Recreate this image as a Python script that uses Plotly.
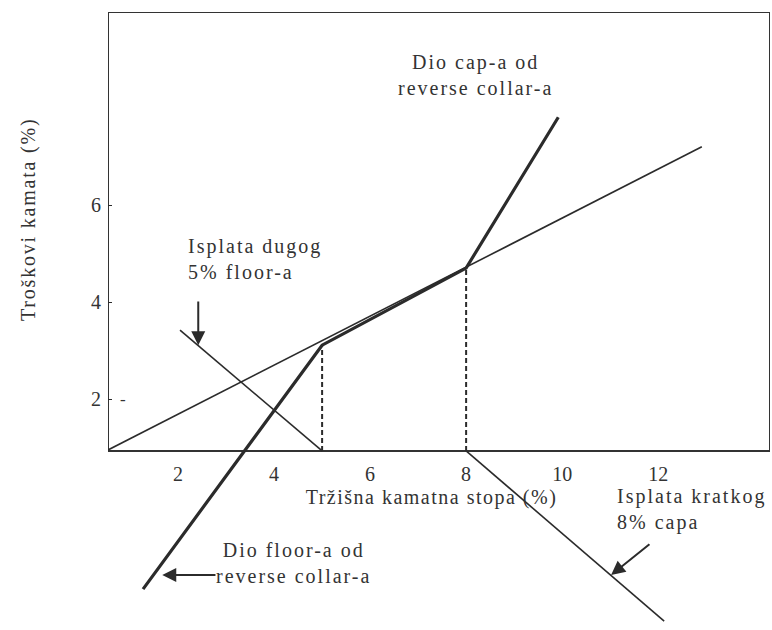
import plotly.graph_objects as go

# ---- data (schematic chart units) ----
unhedged_x = [0.54, 12.91]
unhedged_y = [0.95, 7.20]

hedged_x = [1.27, 5, 8, 9.92]
hedged_y = [-1.92, 3.11, 4.70, 7.81]

floor_x = [2.04, 5]
floor_y = [3.42, 0.93]

cap_x = [8, 12.125]
cap_y = [0.93, -2.58]

strike_floor = 5
strike_cap = 8
axis_level = 0.93

x_ticks = [2, 4, 6, 8, 10, 12]
y_ticks = [2, 4, 6]

x_range = [0.54, 14.33]
y_range = [-2.763, 9.98]

FONT = "Liberation Serif"
INK = "#2b2b2b"
TXT = "#333333"
FS = 20


def sp(s, ls=2):
    return f'<span style="letter-spacing:{ls}px">{s}</span>'


fig = go.Figure()

fig.add_trace(go.Scatter(x=unhedged_x, y=unhedged_y, mode="lines",
                         line=dict(color=INK, width=1.6), hoverinfo="skip"))
fig.add_trace(go.Scatter(x=floor_x, y=floor_y, mode="lines",
                         line=dict(color=INK, width=1.6), hoverinfo="skip"))
fig.add_trace(go.Scatter(x=cap_x, y=cap_y, mode="lines",
                         line=dict(color=INK, width=1.6), hoverinfo="skip"))
fig.add_trace(go.Scatter(x=hedged_x, y=hedged_y, mode="lines",
                         line=dict(color=INK, width=3.2), hoverinfo="skip"))

# dashed verticals at the strikes
fig.add_trace(go.Scatter(x=[strike_floor, strike_floor], y=[axis_level, hedged_y[1]], mode="lines",
                         line=dict(color=INK, width=2, dash="5px,3px"), hoverinfo="skip"))
fig.add_trace(go.Scatter(x=[strike_cap, strike_cap], y=[axis_level, hedged_y[2]], mode="lines",
                         line=dict(color=INK, width=2, dash="5px,3px"), hoverinfo="skip"))

# box around the plot region
fig.add_shape(type="rect", xref="x", yref="y", x0=x_range[0], x1=x_range[1],
              y0=axis_level, y1=y_range[1], line=dict(color="#333333", width=2), layer="below")

ann_font = dict(family=FONT, size=FS, color=TXT)
W, H = 772, 630
L, R, T, B = 108, 2, 12, 0

annotations = [
    dict(x=8.2, y=8.68, xref="x", yref="y", text=sp("Dio cap-a od") + "<br>" + sp("reverse collar-a"),
         showarrow=False, font=ann_font, align="center", xanchor="center"),
    dict(x=2.16, y=4.88, xref="x", yref="y", text=sp("Isplata dugog") + "<br>" + sp("5% floor-a"),
         showarrow=False, font=ann_font, align="left", xanchor="left"),
    dict(x=4.4, y=-1.39, xref="x", yref="y", text=sp("Dio floor-a od") + "<br>" + sp("reverse collar-a"),
         showarrow=False, font=ann_font, align="center"),
    dict(x=11.1, y=-0.28, xref="x", yref="y", text=sp("Isplata kratkog") + "<br>" + sp("8% capa"),
         showarrow=False, font=ann_font, align="left", xanchor="left"),
    # arrows
    dict(x=2.42, y=3.11, ax=2.42, ay=4.04, xref="x", yref="y", axref="x", ayref="y",
         text="", showarrow=True, arrowhead=2, arrowsize=1.4, arrowwidth=2, arrowcolor=INK),
    dict(x=11.02, y=-1.63, ax=11.85, ay=-0.97, xref="x", yref="y", axref="x", ayref="y",
         text="", showarrow=True, arrowhead=2, arrowsize=1.4, arrowwidth=2, arrowcolor=INK),
    dict(x=1.67, y=-1.63, ax=2.81, ay=-1.63, xref="x", yref="y", axref="x", ayref="y",
         text="", showarrow=True, arrowhead=2, arrowsize=1.4, arrowwidth=2, arrowcolor=INK),
    # y axis title
    dict(x=(28 - L) / (W - L - R), y=1 - (220 - T) / (H - T - B), xref="paper", yref="paper",
         text=sp("Troškovi kamata (%)", 1.8), showarrow=False, textangle=-90, font=ann_font,
         xanchor="center", yanchor="middle"),
    dict(x=0.54 + 15 / 48, y=2.0, xref="x", yref="y", text="-", showarrow=False,
         font=dict(family=FONT, size=17, color=TXT)),
]

axis_pos = (H - B - 451) / (H - T - B)

fig.update_layout(
    width=W, height=H,
    margin=dict(l=L, r=R, t=T, b=B, autoexpand=False),
    paper_bgcolor="white", plot_bgcolor="white",
    showlegend=False,
    annotations=annotations,
    font=dict(family=FONT, size=FS, color=TXT),
    xaxis=dict(range=x_range, tickvals=x_ticks, ticktext=[str(v) for v in x_ticks],
               showgrid=False, zeroline=False, showline=False, ticks="", automargin=False,
               anchor="free", position=axis_pos, ticklabelstandoff=9,
               tickfont=dict(family=FONT, size=FS, color=TXT),
               title=dict(text=sp("Tržišna kamatna stopa (%)", 1.5) + "&nbsp;&nbsp;&nbsp;",
                          font=dict(family=FONT, size=FS, color=TXT), standoff=5)),
    yaxis=dict(range=y_range, tickvals=y_ticks, ticktext=[str(v) for v in y_ticks],
               showgrid=False, zeroline=False, showline=False, automargin=False,
               ticks="inside", ticklen=4, tickwidth=1.2, tickcolor=INK, ticklabelstandoff=6,
               tickfont=dict(family=FONT, size=FS, color=TXT)),
)

fig.write_html("out.html", config={"displayModeBar": False},
               post_script="document.body.style.margin='0';document.body.style.padding='0';")
